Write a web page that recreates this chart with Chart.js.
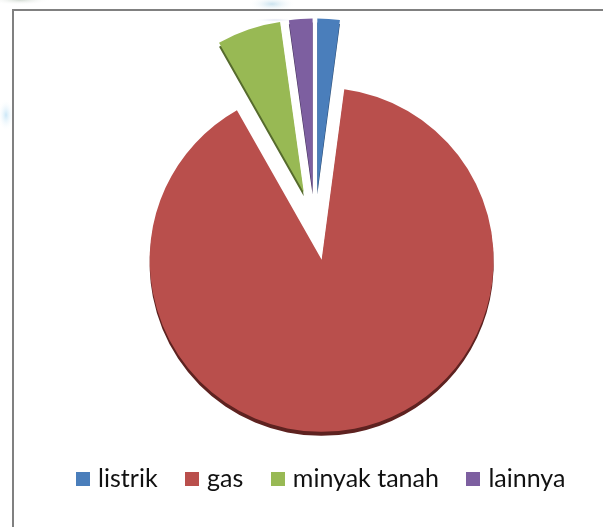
<!DOCTYPE html>
<html><head><meta charset="utf-8">
<style>html,body{margin:0;padding:0;background:#fff}#w{position:relative;width:603px;height:527px}canvas{display:block}</style>
<script src="https://cdn.jsdelivr.net/npm/chart.js@4"></script>
</head><body><div id="w"><canvas id="c" width="603" height="527"></canvas></div>
<script>
const categories = ["listrik", "gas", "minyak tanah", "lainnya"];
const values = [2.1, 89.7, 6.0, 2.2];
const colors = ["#4A7EBB", "#B94F4C", "#98B954", "#7D5FA0"];
const sideColors = ["#2C4D74", "#5E2220", "#566B2D", "#46345C"];

const explode = 35;   // how far each slice is pulled out, px
const depthPx = 4;

function smudge(c, x, y, rx, ry, color) {
  c.save();
  c.translate(x, y);
  c.scale(rx, ry);
  const g = c.createRadialGradient(0, 0, 0, 0, 0, 1);
  g.addColorStop(0, color);
  g.addColorStop(1, "rgba(255,255,255,0)");
  c.fillStyle = g;
  c.fillRect(-1, -1, 2, 2);
  c.restore();
}

const frame = {
  id: "frame",
  beforeDraw(chart) {
    const c = chart.ctx;
    c.save();
    c.fillStyle = "#fff";
    c.fillRect(0, 0, 603, 527);
    smudge(c, 20, 0, 30, 5, "rgba(200,210,200,0.8)");
    smudge(c, 272, 4, 24, 8, "rgba(190,220,235,0.8)");
    smudge(c, 6, 115, 8, 16, "rgba(190,225,245,0.8)");
    smudge(c, 275, 20, 22, 2, "rgba(210,215,235,0.7)");
    c.strokeStyle = "#808080";
    c.lineWidth = 2;
    c.strokeRect(13, 10, 620, 600);
    c.restore();
  }
};

const sizing = {
  id: "sizing",
  afterLayout(chart) {
    chart.legend.left += 8;
    chart.legend.right += 8;
  },
  afterDatasetsUpdate(chart) {
    chart.getDatasetMeta(0).data.forEach(arc => {
      const mid = (arc.startAngle + arc.endAngle) / 2;
      arc.x += Math.cos(mid) * explode;
      arc.y += Math.sin(mid) * explode;
    });
  }
};

const depth = {
  id: "depth",
  beforeDatasetsDraw(chart) {
    const c = chart.ctx;
    chart.getDatasetMeta(0).data.forEach((arc, i) => {
      const ghost = Object.create(arc);
      ghost.options = Object.assign({}, arc.options, { backgroundColor: sideColors[i], borderColor: sideColors[i] });
      c.save();
      c.translate(0, depthPx);
      ghost.draw(c);
      c.restore();
    });
  }
};

const swatches = colors.map(col => {
  const s = document.createElement("canvas");
  s.width = 14; s.height = 14;
  const x = s.getContext("2d");
  x.fillStyle = col;
  x.fillRect(0, 0, 14, 14);
  return s;
});

new Chart(document.getElementById("c"), {
  type: "pie",
  data: { labels: categories, datasets: [{ data: values, backgroundColor: colors, borderWidth: 0, radius: 172 }] },
  plugins: [frame, sizing, depth],
  options: {
    responsive: false,
    animation: false,
    layout: { padding: { top: 17, left: 27, right: 0, bottom: 26 } },
    plugins: {
      tooltip: { enabled: false },
      legend: {
        position: "bottom",
        labels: {
          usePointStyle: true,
          pointStyleWidth: 5,
          padding: 32,
          color: "#111",
          font: { family: "Lato", size: 25 },
          generateLabels(chart) {
            return Chart.overrides.pie.plugins.legend.labels.generateLabels(chart)
              .map((item, i) => Object.assign(item, { pointStyle: swatches[i] }));
          }
        }
      }
    }
  }
});
</script></body></html>
